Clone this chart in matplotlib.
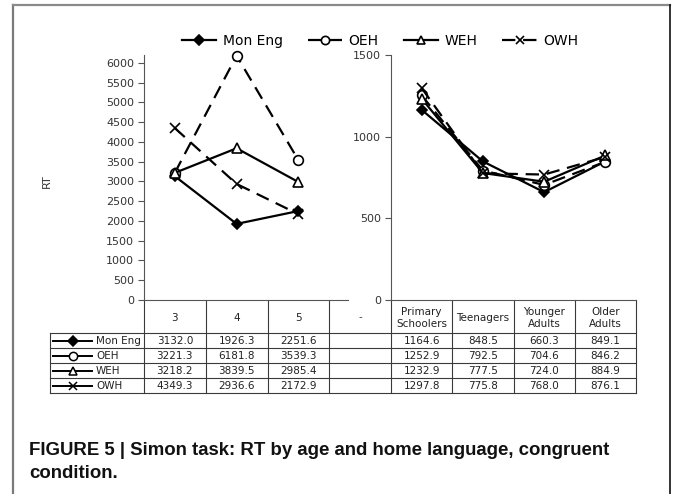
import matplotlib
matplotlib.use('Agg')
import matplotlib.pyplot as plt
from matplotlib.lines import Line2D

# Simon task RT, congruent condition
series = ['Mon Eng', 'OEH', 'WEH', 'OWH']
child_ages = ['3', '4', '5']
gap_label = '-'
age_groups = ['Primary\nSchoolers', 'Teenagers', 'Younger\nAdults', 'Older\nAdults']

mon_eng_child = [3132.0, 1926.3, 2251.6]
oeh_child = [3221.3, 6181.8, 3539.3]
weh_child = [3218.2, 3839.5, 2985.4]
owh_child = [4349.3, 2936.6, 2172.9]

mon_eng_age = [1164.6, 848.5, 660.3, 849.1]
oeh_age = [1252.9, 792.5, 704.6, 846.2]
weh_age = [1232.9, 777.5, 724.0, 884.9]
owh_age = [1297.8, 775.8, 768.0, 876.1]

child_vals = [mon_eng_child, oeh_child, weh_child, owh_child]
age_vals = [mon_eng_age, oeh_age, weh_age, owh_age]

left_ticks = list(range(0, 6001, 500))
right_ticks = [0, 500, 1000, 1500]

# line styles per series
styles = [
    dict(marker='D', ms=5.5, mfc='black', ls='-'),
    dict(marker='o', ms=7, mfc='white', ls=(0, (6, 3.5))),
    dict(marker='^', ms=7, mfc='white', ls='-'),
    dict(marker='x', ms=7, mfc='black', ls=(0, (6, 3.5))),
]

W, H = 673, 494
fig = plt.figure(figsize=(W / 100, H / 100), dpi=100)
fig.patch.set_facecolor('white')


def px_axes(x0, y0, x1, y1):
    return fig.add_axes([x0 / W, 1 - y1 / H, (x1 - x0) / W, (y1 - y0) / H])


# pixel overlay for frame, table and caption
ax_t = px_axes(0, 0, W, H)
ax_t.set_xlim(0, W)
ax_t.set_ylim(H, 0)
ax_t.axis('off')

X0, XM, X1 = 144, 391, 636
Y0, Y1 = 55, 300
grid_c = '#3a3a3a'
text_c = '#222222'

ax_l = px_axes(X0, Y0, XM, Y1)
ax_r = px_axes(XM, Y0, X1, Y1)
for ax in (ax_l, ax_r):
    ax.set_facecolor('none')
    ax.set_xlim(-0.5, 3.5)
    ax.spines['top'].set_visible(False)
    ax.spines['right'].set_visible(False)
    ax.spines['left'].set_color('#555555')
    ax.spines['bottom'].set_color('#555555')
    ax.set_xticks([])
    ax.tick_params(axis='y', direction='out', length=4, color='#555555',
                   labelsize=8, labelcolor='#333333', pad=3)

ax_l.set_ylim(0, 6200)
ax_l.set_yticks(left_ticks)
ax_l.spines['bottom'].set_bounds(-0.5, 2.8)
ax_r.set_ylim(0, 1500)
ax_r.set_yticks(right_ticks)

x_child = list(range(len(child_ages)))
x_age = list(range(len(age_groups)))
for name, cv, av, st in zip(series, child_vals, age_vals, styles):
    kw = dict(color='black', lw=1.6, mec='black', mew=1.2, marker=st['marker'],
              ms=st['ms'], mfc=st['mfc'], ls=st['ls'], clip_on=False)
    ax_l.plot(x_child, cv, label=name, **kw)
    ax_r.plot(x_age, av, **kw)

fig.text(47 / W, 1 - 181 / H, 'RT', rotation=90, ha='center', va='center',
         fontsize=8, color='#333333')

# legend
handles, labels = ax_l.get_legend_handles_labels()
fig.legend(handles, labels, loc='center', bbox_to_anchor=(380 / W, 1 - 41 / H),
           ncol=4, frameon=False, handlelength=2.5, handletextpad=0.45,
           columnspacing=1.8, markerscale=0.85,
           prop=dict(family=['Liberation Sans Narrow', 'DejaVu Sans'], size=10))

# table below the axes
col_edges = [X0 + i * (XM - X0) / 4 for i in range(5)] + [XM + i * (X1 - XM) / 4 for i in range(1, 5)]
header_labels = child_ages + [gap_label] + age_groups
hdr_bot = 333
row_h = 15
tab_bot = hdr_bot + row_h * len(series)
lab_x = 50

for x in col_edges:
    ax_t.plot([x, x], [Y1, tab_bot], color=grid_c, lw=0.8)
ax_t.plot([lab_x, lab_x], [hdr_bot, tab_bot], color=grid_c, lw=0.8)
for i in range(len(series) + 1):
    y = hdr_bot + i * row_h
    ax_t.plot([lab_x, X1], [y, y], color=grid_c, lw=0.8)

for i, lab in enumerate(header_labels):
    xc = (col_edges[i] + col_edges[i + 1]) / 2
    ax_t.text(xc, (Y1 + hdr_bot) / 2 + 1, lab, ha='center', va='center',
              fontsize=7.5, color='#444444' if lab == gap_label else text_c,
              linespacing=1.25)

for r, (name, cv, av, st) in enumerate(zip(series, child_vals, age_vals, styles)):
    yc = hdr_bot + r * row_h + row_h / 2
    ax_t.add_line(Line2D([53, 92], [yc, yc], color='black', lw=1.4))
    ax_t.add_line(Line2D([72.5], [yc], marker=st['marker'], ms=st['ms'] * 0.85,
                         mfc=st['mfc'], mec='black', mew=1.1, ls='none'))
    ax_t.text(96, yc + 0.5, name, ha='left', va='center', fontsize=7.5, color=text_c,
              family=['Liberation Sans Narrow', 'DejaVu Sans'])
    cells = [f'{v:.1f}' for v in cv] + [''] + [f'{v:.1f}' for v in av]
    for i, s in enumerate(cells):
        xc = (col_edges[i] + col_edges[i + 1]) / 2
        ax_t.text(xc, yc + 0.5, s, ha='center', va='center', fontsize=7.5, color=text_c)

# frame
ax_t.add_line(Line2D([13, 13], [5, H], color='#7a7a7a', lw=1.6))
ax_t.add_line(Line2D([13, 670], [5, 5], color='#8a8a8a', lw=1.6))
ax_t.add_line(Line2D([670, 670], [5, H], color='#111111', lw=1.2))

# caption
cap_font = dict(fontsize=13.4, fontweight='bold', color='#111111',
                family=['Liberation Sans', 'DejaVu Sans'])
ax_t.text(29, 455, 'FIGURE 5 | Simon task: RT by age and home language, congruent',
          ha='left', va='baseline', **cap_font)
ax_t.text(29, 478, 'condition.', ha='left', va='baseline', **cap_font)

fig.savefig('out.png', dpi=100)
